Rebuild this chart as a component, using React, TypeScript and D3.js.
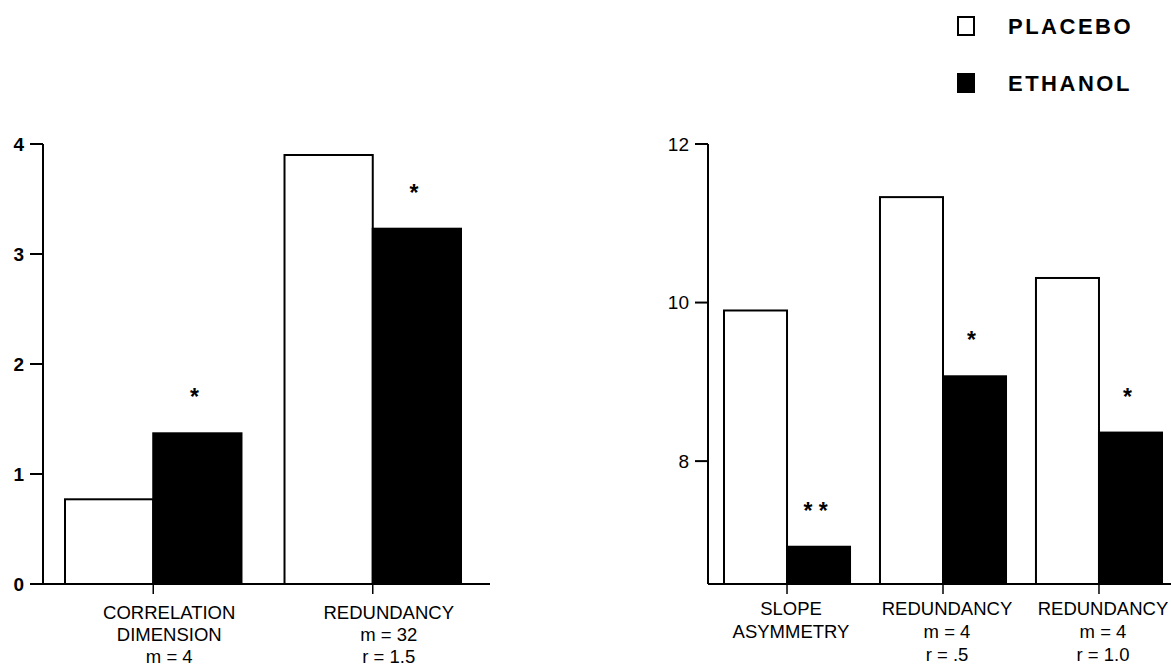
import React from "react";
import * as d3 from "d3";

// Series shown in both panels
const seriesNames = ["PLACEBO", "ETHANOL"];

// Left panel: correlation dimension and redundancy
const leftCategories = [
  ["CORRELATION", "DIMENSION", "m = 4"],
  ["REDUNDANCY", "m = 32", "r = 1.5"],
];
const leftPlacebo = [0.77, 3.9];
const leftEthanol = [1.37, 3.23];
const leftStars = ["*", "*"];
const leftTicks = [0, 1, 2, 3, 4];

// Right panel: slope asymmetry and redundancy at two radii
const rightCategories = [
  ["SLOPE", "ASYMMETRY"],
  ["REDUNDANCY", "m = 4", "r = .5"],
  ["REDUNDANCY", "m = 4", "r = 1.0"],
];
const rightPlacebo = [9.9, 11.33, 10.31];
const rightEthanol = [6.92, 9.07, 8.36];
const rightStars = ["* *", "*", "*"];
const rightTicks = [8, 10, 12];

const FONT = "'Liberation Sans', Arial, Helvetica, sans-serif";
const BASE_Y = 584;
const TOP_Y = 144;

type PanelProps = {
  categories: string[][];
  placebo: number[];
  ethanol: number[];
  stars: string[];
  ticks: number[];
  yDomain: [number, number];
  axisX: number;
  baseStart: number;
  baseEnd: number;
  barRange: [number, number];
  groupPadding: number;
  labelOffset: number;
  labelTop: number;
  labelGap: number;
  tickWeight: string;
};

function Panel(p: PanelProps) {
  const y = d3.scaleLinear().domain(p.yDomain).range([BASE_Y, TOP_Y]);
  const groups = p.categories.map((_, i) => String(i));
  const x = d3
    .scaleBand<string>()
    .domain(groups)
    .range(p.barRange)
    .paddingInner(p.groupPadding)
    .paddingOuter(0);
  const inner = d3
    .scaleBand<string>()
    .domain(seriesNames)
    .range([0, x.bandwidth()]);

  return (
    <g>
      {/* bars */}
      {groups.map((g, i) => {
        const gx = x(g)!;
        const vals = [p.placebo[i], p.ethanol[i]];
        return vals.map((v, j) => {
          const bx = gx + inner(seriesNames[j])!;
          const top = y(v);
          return (
            <rect
              key={`${g}-${j}`}
              x={bx}
              y={top}
              width={inner.bandwidth()}
              height={BASE_Y - top}
              fill={j === 0 ? "#fff" : "#000"}
              stroke="#000"
              strokeWidth={2}
            />
          );
        });
      })}

      {/* significance marks above the ethanol bars */}
      {groups.map((g, i) => {
        const bx = x(g)! + inner("ETHANOL")! + inner.bandwidth() / 2 - 3;
        const top = y(p.ethanol[i]);
        return (
          <text
            key={`s-${g}`}
            x={bx}
            y={top - 28}
            textAnchor="middle"
            fontFamily={FONT}
            fontSize={23}
            fontWeight="bold"
            style={{ whiteSpace: "pre" }}
          >
            {p.stars[i]}
          </text>
        );
      })}

      {/* y axis */}
      <line x1={p.axisX} x2={p.axisX} y1={TOP_Y} y2={BASE_Y} stroke="#000" strokeWidth={2} />
      {p.ticks.map((t) => (
        <g key={`t-${t}`}>
          <line
            x1={p.axisX - 13}
            x2={p.axisX}
            y1={y(t)}
            y2={y(t)}
            stroke="#000"
            strokeWidth={2}
          />
          <text
            x={p.axisX - 19}
            y={y(t)}
            dy="0.36em"
            textAnchor="end"
            fontFamily={FONT}
            fontSize={19}
            fontWeight={p.tickWeight}
          >
            {t}
          </text>
        </g>
      ))}

      {/* baseline */}
      <line x1={p.baseStart} x2={p.baseEnd} y1={BASE_Y} y2={BASE_Y} stroke="#000" strokeWidth={2} />

      {/* category ticks and labels */}
      {groups.map((g, i) => {
        const cx = x(g)! + x.bandwidth() / 2;
        return (
          <g key={`c-${g}`}>
            <line x1={cx} x2={cx} y1={BASE_Y} y2={BASE_Y + 10} stroke="#000" strokeWidth={1.5} />
            {p.categories[i].map((line, k) => (
              <text
                key={k}
                x={cx + p.labelOffset}
                y={p.labelTop + k * p.labelGap}
                textAnchor="middle"
                fontFamily={FONT}
                fontSize={18.5}
              >
                {line}
              </text>
            ))}
          </g>
        );
      })}
    </g>
  );
}

export default function App() {
  const legendY = [26, 83];
  return (
    <svg
      width={1171}
      height={667}
      style={{ position: "absolute", left: 0, top: 0, background: "#fff" }}
    >
      <rect width={1171} height={667} fill="#fff" />
      <Panel
        categories={leftCategories}
        placebo={leftPlacebo}
        ethanol={leftEthanol}
        stars={leftStars}
        ticks={leftTicks}
        yDomain={[0, 4]}
        axisX={43}
        baseStart={31}
        baseEnd={490}
        barRange={[65, 461]}
        groupPadding={0.196}
        labelOffset={16}
        labelTop={619}
        labelGap={22}
        tickWeight="bold"
      />
      <Panel
        categories={rightCategories}
        placebo={rightPlacebo}
        ethanol={rightEthanol}
        stars={rightStars}
        ticks={rightTicks}
        yDomain={[6.45, 12]}
        axisX={708}
        baseStart={708}
        baseEnd={1171}
        barRange={[724, 1162]}
        groupPadding={0.192}
        labelOffset={4}
        labelTop={615}
        labelGap={23}
        tickWeight="normal"
      />

      {/* legend */}
      {seriesNames.map((s, i) => (
        <g key={s}>
          <rect
            x={958}
            y={legendY[i] - 9}
            width={16}
            height={18}
            fill={i === 0 ? "#fff" : "#000"}
            stroke="#000"
            strokeWidth={2}
          />
          <text
            x={1008}
            y={legendY[i]}
            dy="0.36em"
            fontFamily={FONT}
            fontSize={22}
            fontWeight="bold"
            letterSpacing={2.5}
          >
            {s}
          </text>
        </g>
      ))}
    </svg>
  );
}
